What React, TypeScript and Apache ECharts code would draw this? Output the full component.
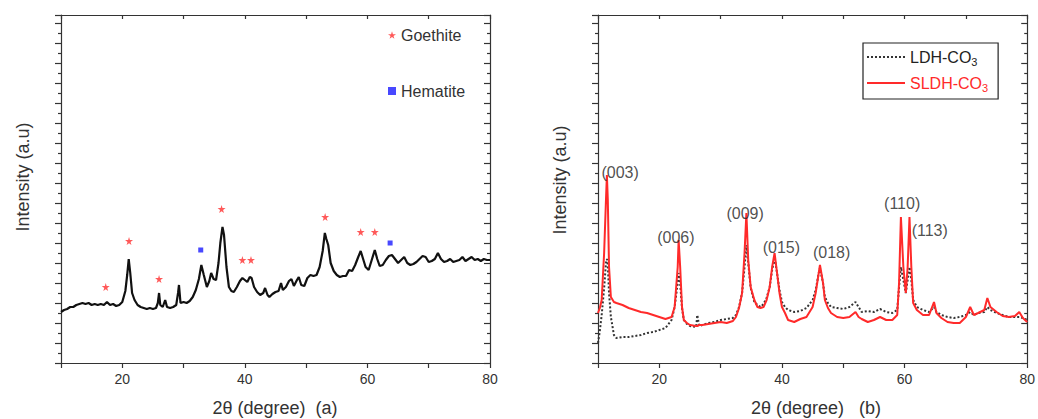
import React, { useEffect, useRef } from "react";
import * as echarts from "echarts";

// ---------- Panel (a): raw XRD pattern ----------
const leftX = [10,10.5,11,11.5,12,12.5,13,13.5,14,14.5,15,15.5,16,16.5,17,17.5,18,18.5,19,19.5,20,20.5,20.8,21.05,21.3,21.6,22,22.5,23,23.5,24,24.5,25,25.5,25.8,26,26.2,26.6,27,27.3,27.8,28.3,28.8,29.1,29.25,29.5,30,30.5,31,31.5,32,32.5,32.9,33.3,33.8,34.2,34.5,34.9,35.3,35.7,36,36.35,36.6,37,37.4,37.8,38.2,38.7,39.2,39.6,40,40.4,40.8,41.1,41.5,42,42.5,43,43.3,43.7,44,44.5,45,45.5,45.9,46.2,46.7,47.2,47.6,48,48.5,48.8,49.2,49.7,50.2,50.7,51.2,51.7,52.2,52.7,53.05,53.3,53.6,54,54.5,55,55.5,56,56.5,57,57.5,58,58.5,58.9,59.3,59.7,60.2,60.7,61.2,61.6,62,62.5,63,63.5,64,64.5,65,65.5,66,66.5,67,67.5,68,68.5,69,69.5,70,70.5,71,71.5,72,72.5,73,73.5,74,74.5,75,75.5,76,76.5,77,77.5,78,78.5,79,79.5,80];
const leftY = [51,53,54,56,56,58,59,60,59,60,58,59,58,59,58,61,58,59,57,58,61,72,88,104,90,70,63,58,56,55,54,55,54,55,60,70,58,56,63,56,55,56,58,70,78,60,61,60,62,66,73,84,98,88,76,82,90,84,83,100,120,136,128,96,76,72,71,76,82,85,83,81,86,85,76,71,68,70,75,68,66,69,71,72,80,73,76,82,84,77,83,86,78,77,85,88,87,88,96,112,130,124,118,100,92,88,86,87,87,93,92,98,106,112,104,96,93,103,113,104,97,98,103,107,108,104,100,103,106,100,98,99,101,104,107,106,101,102,104,110,104,101,102,104,101,102,103,106,102,104,106,103,104,102,104,103,103];

const goethiteX = [17.3,21.1,26.0,36.2,39.6,41.0,53.1,58.9,61.2];
const goethiteY = [76,122,84,154,103,103,146,131,131];
const hematiteX = [32.8,63.7];
const hematiteY = [113,120];

// ---------- Panel (b): LDH-CO3 vs SLDH-CO3 ----------
const rightX = [10,10.3,10.6,11,11.3,11.45,11.6,11.8,12.1,12.6,13,14,15,16,17,18,19,20,21,22,22.5,23,23.15,23.4,23.7,24,24.5,25,26,26.2,26.5,27,28,29,30,31,32,32.5,33,33.5,33.9,34.2,34.5,34.9,35.5,36,36.5,37,37.5,38,38.4,38.8,39.2,39.6,40,40.5,41,42,43,44,45,45.5,46,46.2,46.7,47,47.5,48,49,50,51,52,52.5,53,54,55,56,57,58,58.8,59.1,59.4,59.8,60.2,60.5,60.8,61.1,61.4,62,63,64,64.8,65.2,66,67,68,69,70,70.7,71.3,72,73,73.5,74,75,76,77,78,78.7,79.3,80];
const sldhY = [50,55,63,110,163,188,163,96,66,61,60,58,55,53,51,50,48,46,44,46,56,96,123,96,56,43,40,38,37,37,38,38,39,40,41,40,42,46,55,70,110,150,103,76,63,56,55,56,63,76,96,110,90,70,56,50,43,41,44,46,56,70,90,98,80,63,55,50,46,45,46,51,46,44,41,43,46,43,43,48,80,146,96,70,96,146,96,60,53,48,48,61,50,45,41,40,40,46,56,48,50,53,65,56,51,47,46,47,51,45,41];
const ldhY = [20,32,48,75,100,104,98,70,46,28,25,26,26,27,28,30,31,33,35,43,56,80,90,80,55,43,39,37,36,48,37,38,40,41,43,44,45,48,56,70,96,118,100,75,61,58,56,59,65,76,93,106,90,73,61,56,53,51,52,55,63,73,90,95,80,66,60,56,55,54,56,61,56,51,52,51,54,51,50,53,76,96,83,70,83,96,83,63,56,53,51,56,51,48,46,45,46,48,51,48,50,51,56,53,50,48,46,46,46,45,43];

const peakLabels = ["(003)","(006)","(009)","(015)","(018)","(110)","(113)"];
const peakLabelX = [13.6,22.7,34.0,39.9,48.1,59.6,64.1];
const peakLabelY = [191,126,150,116,111,160,133];

const FONT = "'Liberation Sans', Arial, Helvetica, sans-serif";
const AXIS_COLOR = "#333";
const STAR = "path://M50,0 L61,35 L98,35 L68,57 L79,91 L50,70 L21,91 L32,57 L2,35 L39,35 Z";

const zip = (xs: number[], ys: number[]) => xs.map((x, i) => [x, ys[i]]);

function makeXAxes(gridIndex: number) {
  const line = { show: true, onZero: false, lineStyle: { color: AXIS_COLOR, width: 1.2 } };
  return [
    {
      gridIndex, type: "value", min: 10, max: 80, interval: 10, position: "bottom",
      axisLine: line,
      axisTick: { show: true, inside: false, length: 5, lineStyle: { color: AXIS_COLOR, width: 1.2 } },
      axisLabel: {
        show: true, margin: 9, fontSize: 14, color: "#333", fontFamily: FONT,
        formatter: (v: number) => (v % 20 === 0 ? String(v) : ""),
      },
      splitLine: { show: false },
    },
    {
      gridIndex, type: "value", min: 10, max: 80, interval: 10, position: "top",
      axisLine: line,
      axisTick: { show: true, inside: true, length: 4, lineStyle: { color: AXIS_COLOR, width: 1.2 } },
      axisLabel: { show: false },
      splitLine: { show: false },
    },
  ];
}

function makeYAxes(gridIndex: number) {
  const line = { show: true, onZero: false, lineStyle: { color: AXIS_COLOR, width: 1.2 } };
  const common = {
    gridIndex, type: "value", min: 0, max: 348, interval: 20,
    axisLine: line, axisLabel: { show: false }, splitLine: { show: false }, minorSplitLine: { show: false },
  };
  return [
    {
      ...common, position: "left",
      axisTick: { show: true, inside: false, length: 6, lineStyle: { color: AXIS_COLOR, width: 1.2 } },
      minorTick: { show: true, splitNumber: 2, length: 3, lineStyle: { color: AXIS_COLOR, width: 1.2 } },
    },
    {
      ...common, position: "right",
      axisTick: { show: true, inside: true, length: 6, lineStyle: { color: AXIS_COLOR, width: 1.2 } },
      minorTick: { show: true, splitNumber: 2, length: 3, lineStyle: { color: AXIS_COLOR, width: 1.2 } },
    },
  ];
}

export default function App() {
  const ref = useRef<HTMLDivElement>(null);

  useEffect(() => {
    if (!ref.current) return;
    const chart = echarts.init(ref.current, undefined, { renderer: "svg" });

    const option: any = {
      animation: false,
      backgroundColor: "#ffffff",
      textStyle: { fontFamily: FONT },
      grid: [
        { left: 61, right: 548, top: 15, bottom: 56 },
        { left: 598, right: 4, top: 15, bottom: 56 },
      ],
      xAxis: [...makeXAxes(0), ...makeXAxes(1)],
      yAxis: [...makeYAxes(0), ...makeYAxes(1)],
      legend: [
        {
          data: [
            { name: "Goethite", icon: STAR, itemStyle: { color: "#ff3030" } },
            { name: "Hematite", icon: "rect", itemStyle: { color: "#1a1aff" } },
          ],
          orient: "vertical", left: 383, top: 22, itemWidth: 8, itemHeight: 8, itemGap: 40,
          textStyle: { fontSize: 16, color: "#333", fontFamily: FONT },
          selectedMode: false,
        },
        {
          data: [
            { name: "LDH-CO3", itemStyle: { opacity: 0 } },
            { name: "SLDH-CO3", itemStyle: { opacity: 0 } },
          ],
          orient: "vertical", left: 863, top: 43, itemWidth: 38, itemHeight: 14, itemGap: 8,
          padding: [6, 10, 6, 3],
          borderColor: "#222", borderWidth: 1.2,
          selectedMode: false,
          formatter: (name: string) => (name === "LDH-CO3" ? "{a|LDH-CO}{as|3}" : "{b|SLDH-CO}{bs|3}"),
          textStyle: {
            fontFamily: FONT,
            rich: {
              a: { fontSize: 16, color: "#222", fontFamily: FONT },
              as: { fontSize: 11, color: "#222", fontFamily: FONT, padding: [9, 0, 0, 0] },
              b: { fontSize: 16, color: "#ff2a2a", fontFamily: FONT },
              bs: { fontSize: 11, color: "#ff2a2a", fontFamily: FONT, padding: [9, 0, 0, 0] },
            },
          },
        },
      ],
      graphic: [
        { type: "text", x: 23, y: 177, rotation: Math.PI / 2,
          style: { text: "Intensity (a.u)", fontSize: 18, fill: "#333", fontFamily: FONT, align: "center", verticalAlign: "middle" } },
        { type: "text", x: 275, y: 408,
          style: { text: "2θ (degree)  (a)", fontSize: 18, fill: "#333", fontFamily: FONT, align: "center", verticalAlign: "middle" } },
        { type: "text", x: 560, y: 180, rotation: Math.PI / 2,
          style: { text: "Intensity (a.u)", fontSize: 18, fill: "#333", fontFamily: FONT, align: "center", verticalAlign: "middle" } },
        { type: "text", x: 816, y: 408,
          style: { text: "2θ (degree)   (b)", fontSize: 18, fill: "#333", fontFamily: FONT, align: "center", verticalAlign: "middle" } },
      ],
      series: [
        {
          name: "Pattern (a)", type: "line", xAxisIndex: 0, yAxisIndex: 0,
          data: zip(leftX, leftY), symbol: "none", showSymbol: false,
          lineStyle: { color: "#111", width: 2.2 }, z: 2,
        },
        {
          name: "Goethite", type: "scatter", xAxisIndex: 0, yAxisIndex: 0,
          data: zip(goethiteX, goethiteY), symbol: STAR, symbolSize: 8,
          itemStyle: { color: "#ff3030" }, z: 3,
        },
        {
          name: "Hematite", type: "scatter", xAxisIndex: 0, yAxisIndex: 0,
          data: zip(hematiteX, hematiteY), symbol: "rect", symbolSize: 5,
          itemStyle: { color: "#1a1aff" }, z: 3,
        },
        {
          name: "LDH-CO3", type: "line", xAxisIndex: 2, yAxisIndex: 2,
          data: zip(rightX, ldhY), symbol: "none", showSymbol: false,
          itemStyle: { color: "#333" },
          lineStyle: { color: "#333", width: 2, type: "dotted" }, z: 2,
        },
        {
          name: "SLDH-CO3", type: "line", xAxisIndex: 2, yAxisIndex: 2,
          data: zip(rightX, sldhY), symbol: "none", showSymbol: false,
          itemStyle: { color: "#ff2a2a" },
          lineStyle: { color: "#ff2a2a", width: 2 }, z: 3,
        },
        {
          name: "Peak labels", type: "scatter", xAxisIndex: 2, yAxisIndex: 2,
          data: peakLabels.map((n, i) => ({ name: n, value: [peakLabelX[i], peakLabelY[i]] })),
          symbolSize: 0, silent: true, z: 5,
          label: { show: true, position: "inside", formatter: "{b}", fontSize: 16, color: "#222", fontFamily: FONT },
        },
      ],
    };

    chart.setOption(option);
    return () => chart.dispose();
  }, []);

  return (
    <div
      ref={ref}
      style={{ position: "absolute", left: 0, top: 0, width: 1038, height: 419, background: "#fff" }}
    />
  );
}
